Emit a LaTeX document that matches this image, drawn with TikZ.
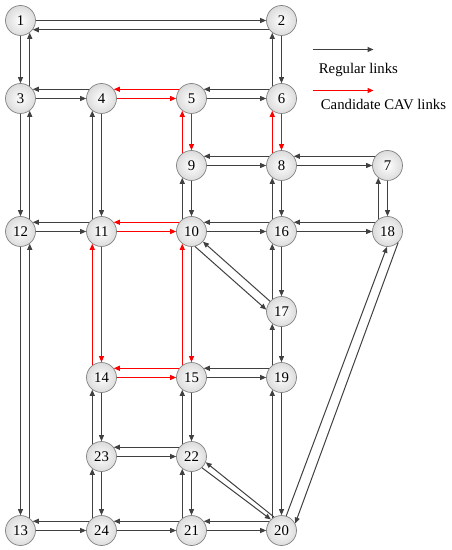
\documentclass[tikz,border=0pt]{standalone}
\usepackage{fontspec}
\setmainfont{Liberation Serif}
\usetikzlibrary{arrows.meta}
\definecolor{lnk}{RGB}{64,64,64}
\definecolor{ndb}{RGB}{130,130,130}
\definecolor{cav}{RGB}{255,0,0}
\begin{document}
\begin{tikzpicture}[x=0.02cm,y=-0.02cm,
  nd/.style={circle, draw=ndb, line width=0.4pt, inner color=white, outer color=black!14,
    minimum size=0.6cm, inner sep=0pt, font=\fontsize{8.4}{9}\selectfont},
  base/.style={line width=0.57pt, -{Triangle[length=1.2mm,width=1mm]}},
  lk/.style={base, color=lnk},
  ck/.style={base, color=cav},
  lg/.style={anchor=west, inner sep=0pt, font=\fontsize{8.4}{10}\selectfont}]
\useasboundingbox (0,0) rectangle (452,550);
\begin{scope}[shift={(0.5,0.5)}]
\path
  (20,20)  coordinate (p1)  (281,20)  coordinate (p2)
  (20,98)  coordinate (p3)  (101,98)  coordinate (p4)
  (191,98) coordinate (p5)  (281,98)  coordinate (p6)
  (387,165) coordinate (p7) (281,165) coordinate (p8)
  (191,165) coordinate (p9) (191,231) coordinate (p10)
  (101,231) coordinate (p11) (20,231) coordinate (p12)
  (20,530) coordinate (p13) (101,377) coordinate (p14)
  (191,377) coordinate (p15) (281,231) coordinate (p16)
  (281,311) coordinate (p17) (387,231) coordinate (p18)
  (281,377) coordinate (p19) (281,530) coordinate (p20)
  (191,530) coordinate (p21) (191,456) coordinate (p22)
  (101,456) coordinate (p23) (101,530) coordinate (p24);
\foreach \i in {1,...,24} {\node[nd] (n\i) at (p\i) {\i};}
% horizontal pairs: centre line left->right, upper line right->left
\draw[lk] (n1) -- (n2); \draw[lk] (n2.217) -- (n1.323);
\foreach \a/\b/\t in {3/4/lk,4/5/ck,5/6/lk,9/8/lk,8/7/lk,12/11/lk,11/10/ck,10/16/lk,16/18/lk,
  14/15/ck,15/19/lk,23/22/lk,13/24/lk,24/21/lk,21/20/lk} {
  \draw[\t] (n\a) -- (n\b);
  \draw[\t] (n\b.143) -- (n\a.37);
}
% vertical pairs: centre line down, left line up
\foreach \a/\b/\t in {2/6/lk,4/11/lk,5/9/ck,6/8/ck,9/10/lk,8/16/lk,7/18/lk,11/14/ck,10/15/ck,
  16/17/lk,17/19/lk,14/23/lk,15/22/lk,19/20/lk,23/24/lk,22/21/lk} {
  \draw[\t] (n\a) -- (n\b);
  \draw[\t] (n\b.127) -- (n\a.233);
}
% left column: centre line down, right line up
\foreach \a/\b in {1/3,3/12,12/13} {
  \draw[lk] (n\a) -- (n\b);
  \draw[lk] (n\b.53) -- (n\a.307);
}
% diagonals
\draw[lk] (n17) -- (n10);
\draw[lk] (n10.-77) -- (n17.173);
\draw[lk] (n20.119) -- (n22.-22);
\draw[lk] (n22.-47) -- (n20.134);
\draw[lk] (n20.72) -- (n18.-92);
\draw[lk] (n18.-46) -- (n20.27);
% legend
\coordinate (g1) at (312,49); \coordinate (g2) at (373,49);
\coordinate (r1) at (312,90); \coordinate (r2) at (373,90);
\draw[lk] (g1) -- (g2);
\draw[ck] (r1) -- (r2);
\node[lg] (tg) at (318,69) {Regular links};
\node[lg] (tr) at (320,104) {Candidate CAV links};
\end{scope}
\end{tikzpicture}
\end{document}
